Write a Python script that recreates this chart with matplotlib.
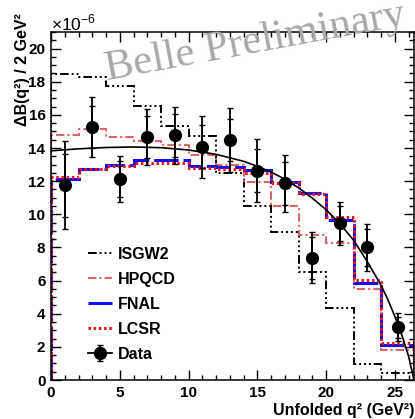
import matplotlib
matplotlib.use("Agg")
import matplotlib.pyplot as plt
import numpy as np
from matplotlib.ticker import MultipleLocator
from matplotlib.lines import Line2D

plt.rcParams['font.family'] = ['Liberation Sans', 'DejaVu Sans']
plt.rcParams['mathtext.fontset'] = 'custom'
plt.rcParams['mathtext.rm'] = 'Liberation Sans'
plt.rcParams['mathtext.bf'] = 'Liberation Sans:bold'

# ---- data (units of 1e-6 per 2 GeV^2) ----
bin_edges = [0, 2, 4, 6, 8, 10, 12, 14, 16, 18, 20, 22, 24, 26.4]
isgw2 = [18.45, 18.29, 17.73, 16.52, 15.33, 14.73, 12.52, 10.51, 8.92, 6.53, 4.32, 0.95, 0.42]
hpqcd = [14.81, 15.15, 14.65, 14.43, 14.18, 13.55, 12.95, 11.92, 10.51, 8.75, 8.24, 5.49, 1.81]
fnal = [12.10, 12.72, 13.00, 13.27, 13.27, 12.92, 12.86, 12.70, 11.96, 11.26, 9.65, 5.83, 2.11]
lcsr = [12.26, 12.76, 12.92, 13.12, 13.12, 12.80, 12.76, 12.52, 11.86, 11.21, 9.85, 6.03, 2.21]

data_q2 = [1, 3, 5, 7, 9, 11, 13, 15, 17, 19, 21, 23, 25.2]
data_val = [11.76, 15.27, 12.14, 14.67, 14.77, 14.07, 14.51, 12.62, 11.86, 7.38, 9.45, 8.00, 3.18]
data_tot = [2.65, 1.80, 1.40, 1.70, 1.72, 1.88, 1.93, 1.90, 1.74, 1.53, 1.30, 1.40, 0.85]
data_stat = [1.90, 1.27, 1.10, 1.25, 1.30, 1.30, 1.27, 1.30, 1.30, 1.27, 1.06, 1.10, 0.65]

fit_q2 = [0, 2, 4, 6, 8, 10, 12, 14, 15, 16, 17, 18, 19, 20, 21, 22, 23, 24, 24.5, 25, 25.5, 26, 26.4]
fit_val = [13.83, 13.95, 14.03, 14.06, 14.02, 13.88, 13.62, 13.20, 12.90, 12.55, 12.12, 11.60, 10.98, 10.28, 9.45, 8.44, 7.15, 5.72, 4.85, 3.85, 2.75, 1.45, 0.0]

labels = ['ISGW2', 'HPQCD', 'FNAL', 'LCSR', 'Data']

# ---- figure ----
W, H = 415, 419
fig = plt.figure(figsize=(W / 100, H / 100), dpi=100)
ax = fig.add_axes([51 / W, 1 - 380 / H, 363 / W, 348 / H])

h1 = ax.stairs(isgw2, bin_edges, color='black', lw=1.4,
               linestyle=(0, (4.5, 1.5, 1, 1.5, 1, 1.5, 1, 1.5)), label=labels[0])
h2 = ax.stairs(hpqcd, bin_edges, color='#d9666b', lw=1.5,
               linestyle=(0, (4, 1.5, 1, 1.5)), label=labels[1])
h3 = ax.stairs(fnal, bin_edges, color='#1010ee', lw=2.2,
               linestyle=(0, (8, 1.6)), label=labels[2])
h4 = ax.stairs(lcsr, bin_edges, color='#ee1111', lw=2.2,
               linestyle=(0, (0.8, 0.9)), label=labels[3])

ax.plot(fit_q2, fit_val, color='black', lw=1.2, zorder=4)

# total errors (with end ticks) and stat ticks
eb = ax.errorbar(data_q2, data_val, yerr=data_tot, fmt='o', color='black',
                 ms=8.5, elinewidth=1.3, capsize=2.5, capthick=1.0, zorder=6, label=labels[4])
ax.errorbar(data_q2, data_val, yerr=data_stat, fmt='none', ecolor='black',
            elinewidth=1.3, capsize=2.5, capthick=1.0, zorder=6)

ax.set_xlim(0, 26.4)
ax.set_ylim(0, 21)

ax.xaxis.set_major_locator(MultipleLocator(5))
ax.xaxis.set_minor_locator(MultipleLocator(1))
ax.yaxis.set_major_locator(MultipleLocator(2))
ax.yaxis.set_minor_locator(MultipleLocator(0.5))
ax.tick_params(which='both', direction='in', top=True, right=True, width=1.0)
ax.tick_params(which='major', length=7.5, labelsize=11, pad=4)
ax.tick_params(which='minor', length=3.8)
for lab in ax.get_xticklabels() + ax.get_yticklabels():
    lab.set_fontweight('bold')
for sp in ax.spines.values():
    sp.set_linewidth(1.1)

# axis titles
fig.text(414 / W, 1 - 410 / H, 'Unfolded q² (GeV²)', ha='right', va='center',
         fontsize=11.5, fontweight='bold')
fig.text(22 / W, 1 - 13 / H, 'ΔB(q²) / 2 GeV²', ha='center', va='top',
         rotation=90, fontsize=11.5, fontweight='bold')
fig.text(51 / W, 1 - 23 / H, r'$\times10^{-6}$', ha='left', va='center', fontsize=12.5)

# watermark
fig.text(107 / W, 1 - 80 / H, 'Belle Preliminary', ha='left', va='baseline',
         rotation=10.5, rotation_mode='anchor', fontsize=31,
         family='Liberation Serif', color='#a8a8a8', zorder=0)

data_handle = (Line2D([], [], color='black', lw=1.3), eb)
leg = ax.legend([h1, h2, h3, h4, data_handle], labels, loc='upper left',
                bbox_to_anchor=((88 - 51) / 363, (380 - 247) / 348),
                frameon=False, handlelength=1.5,
                handletextpad=0.4, labelspacing=0.62, borderpad=0, borderaxespad=0,
                prop={'weight': 'bold', 'size': 11.5})
for lh in leg.legend_handles:
    pass

fig.savefig('out.png', dpi=100)
